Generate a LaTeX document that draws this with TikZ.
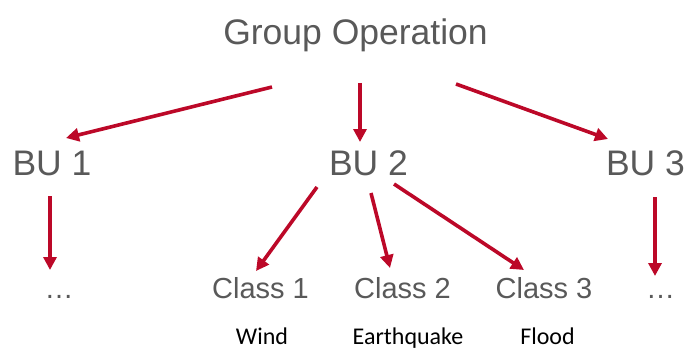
\documentclass[tikz,border=0pt]{standalone}
\usepackage{fontspec}
\setmainfont{Liberation Sans}
\newfontfamily\calibri{Carlito}
\usetikzlibrary{arrows.meta,positioning}
\definecolor{darkred}{RGB}{188,8,40}
\definecolor{txtgray}{RGB}{89,89,89}
\tikzset{
  arr/.style={-{Triangle[length=13pt,width=13pt]},line width=3.6pt,draw=darkred},
  big/.style={anchor=base,inner sep=0pt,text=txtgray,font=\fontsize{35.5}{40}\selectfont},
  cls/.style={anchor=base,inner sep=0pt,text=txtgray,font=\fontsize{29}{34}\selectfont},
  peril/.style={anchor=base,inner sep=0pt,text=black,font=\calibri\fontsize{24}{28}\selectfont}
}

\begin{document}
\begin{tikzpicture}[x=1pt,y=-1pt]
\useasboundingbox (0,0) rectangle (687,350);
% \draw[help lines,step=50] (0,0) grid (687,350);
\node (go) [big] at (355.5,45) {Group Operation};
\node (bu1) [big] at (52,175) {BU 1};
\node (bu2) [big] at (368.5,175) {BU 2};
\node (bu3) [big] at (645.5,175) {BU 3};
%
\node (dotl) [cls] at (59,298) {\dots};
\node (c1) [cls] at (260.5,298) {Class 1};
\node (c2) [cls] at (402.5,298) {Class 2};
\node (c3) [cls] at (544,298) {Class 3};
\node (dotr) [cls] at (660.5,298) {\dots};
%
\node (wind) [peril] at (262,344) {Wind};
\node (quake) [peril] at (408,344) {Earthquake};
\node (flood) [peril] at (547.5,344) {Flood};
%
\draw[arr] ([shift={(-83.5,42)}]go.base) -- ([shift={(14,-37)}]bu1.base);
\draw[arr] ([shift={(4.5,38)}]go.base) -- ([shift={(-8.5,-33)}]bu2.base);
\draw[arr] ([shift={(100.5,39)}]go.base) -- ([shift={(-37.5,-36)}]bu3.base);
%
\draw[arr] ([shift={(-2,21)}]bu1.base) -- ([shift={(-9,-28)}]dotl.base);
\draw[arr] ([shift={(-51.5,12)}]bu2.base) -- ([shift={(-4.5,-27)}]c1.base);
\draw[arr] ([shift={(2.5,18)}]bu2.base) -- ([shift={(-12.5,-30)}]c2.base);
\draw[arr] ([shift={(25.5,9)}]bu2.base) -- ([shift={(-20,-28)}]c3.base);
\draw[arr] ([shift={(9.5,22)}]bu3.base) -- ([shift={(-5.5,-22)}]dotr.base);
%
\end{tikzpicture}
\end{document}
